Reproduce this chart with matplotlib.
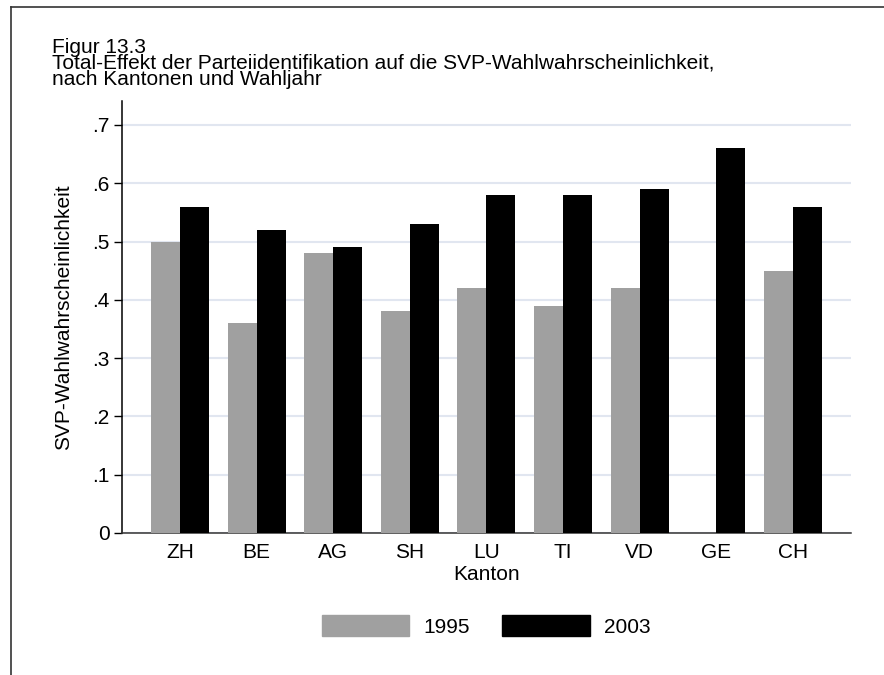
import numpy as np
import matplotlib
matplotlib.use("Agg")
import matplotlib.pyplot as plt
from matplotlib.lines import Line2D

plt.rcParams['font.family'] = ['Liberation Sans', 'DejaVu Sans']

kantone = ["ZH", "BE", "AG", "SH", "LU", "TI", "VD", "GE", "CH"]
werte_1995 = [0.50, 0.36, 0.48, 0.38, 0.42, 0.39, 0.42, np.nan, 0.45]
werte_2003 = [0.56, 0.52, 0.49, 0.53, 0.58, 0.58, 0.59, 0.66, 0.56]
y_ticks = [0, 0.1, 0.2, 0.3, 0.4, 0.5, 0.6, 0.7]
y_ticklabels = ["0", ".1", ".2", ".3", ".4", ".5", ".6", ".7"]
titel = ["Figur 13.3",
         "Total-Effekt der Parteiidentifikation auf die SVP-Wahlwahrscheinlichkeit,",
         "nach Kantonen und Wahljahr"]

W, H = 884, 675
FS = 15
fig = plt.figure(figsize=(W / 100, H / 100), dpi=100)
fig.patch.set_facecolor("white")

# axes box in pixel coordinates
left, right, top, bottom = 122, 851, 101, 533
ax = fig.add_axes([left / W, 1 - bottom / H, (right - left) / W, (bottom - top) / H])

x = np.arange(len(kantone))
bw = 0.379
grau = "#a0a0a0"
ax.bar(x - bw / 2, np.nan_to_num(werte_1995), width=bw, color=grau, linewidth=0, zorder=3)
ax.bar(x + bw / 2, werte_2003, width=bw, color="black", linewidth=0, zorder=3)

ax.set_xlim(-0.757, 8.76)
ax.set_ylim(0, 0.741)
ax.set_yticks(y_ticks)
ax.set_yticklabels(y_ticklabels)
ax.set_xticks(x)
ax.set_xticklabels(kantone)
ax.tick_params(axis="y", length=6, width=1, labelsize=FS, pad=3)
ax.tick_params(axis="x", length=0, labelsize=FS, pad=7)
ax.yaxis.grid(True, color="#e1e6f0", linewidth=1.5, zorder=0)
ax.set_axisbelow(True)
for s in ["top", "right"]:
    ax.spines[s].set_visible(False)
ax.spines["left"].set_linewidth(1.1)
ax.spines["bottom"].set_linewidth(1.1)
ax.spines["bottom"].set_color("#333333")

ax.set_xlabel("Kanton", fontsize=FS, labelpad=2)
ax.set_ylabel("SVP-Wahlwahrscheinlichkeit", fontsize=FS)
ax.yaxis.set_label_coords((73 - left) / (right - left), 0.5)

# title block as one multi-line text, anchored on the last baseline
fig.text(52 / W, 1 - 84.6 / H, "\n".join(titel), ha="left", va="baseline",
         fontsize=FS, linespacing=0.795)

# legend
handles = [plt.Rectangle((0, 0), 1, 1, color=grau), plt.Rectangle((0, 0), 1, 1, color="black")]
fig.legend(handles, ["1995", "2003"], loc="center", bbox_to_anchor=(486 / W, 1 - 626 / H),
           ncol=2, frameon=False, fontsize=FS, handlelength=4.22, handleheight=1.15,
           columnspacing=1.54, handletextpad=0.67)

# outer frame lines
fig.add_artist(Line2D([11 / W, 11 / W], [0, 1 - 7 / H], color="#333333", linewidth=1.2, transform=fig.transFigure))
fig.add_artist(Line2D([11 / W, 1], [1 - 7 / H, 1 - 7 / H], color="#333333", linewidth=1.2, transform=fig.transFigure))

fig.savefig("out.png", dpi=100, facecolor="white")
